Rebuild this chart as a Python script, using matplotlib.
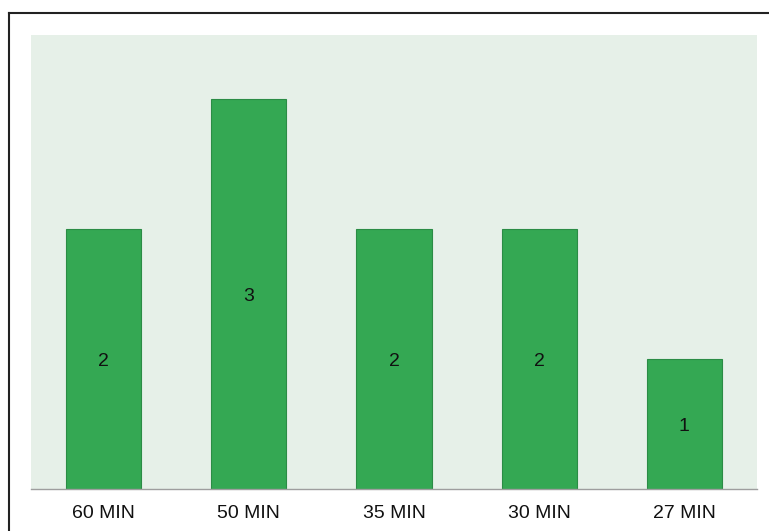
import matplotlib
matplotlib.use("Agg")
import matplotlib.pyplot as plt
from matplotlib.lines import Line2D

plt.rcParams['font.family'] = ['Liberation Sans', 'DejaVu Sans']

labels = ['60 MIN', '50 MIN', '35 MIN', '30 MIN', '27 MIN']
counts = [2, 3, 2, 2, 1]

W, H = 769, 531
fig = plt.figure(figsize=(W/100, H/100), dpi=100)
fig.patch.set_facecolor('white')

# plot area in pixels
x0, x1, ytop, ybot = 31, 757, 35, 489
ax = fig.add_axes([x0/W, (H-ybot)/H, (x1-x0)/W, (ybot-ytop)/H])
ax.set_facecolor('#e6f0e8')

pos = range(len(labels))
bars = ax.bar(pos, counts, width=0.517, color='#34a853',
              edgecolor='#2b8c45', linewidth=0.8, zorder=2)
for b, v in zip(bars, counts):
    # digits centred on the bar middle (baseline ~7px below)
    ax.annotate(str(v), (b.get_x() + b.get_width()/2, v/2), xytext=(0, -7.3),
                textcoords='offset pixels', ha='center', va='baseline',
                fontsize=14, color='#111111', zorder=3)

ax.set_xlim(-0.5, len(labels) - 0.5)
ax.set_ylim(0, 3.49)
ax.set_xticks(list(pos))
ax.set_xticklabels(labels, fontsize=14, color='#111111')
ax.tick_params(axis='x', length=0, pad=11.5)
ax.set_yticks([])
for s in ['top', 'right', 'left']:
    ax.spines[s].set_visible(False)
ax.spines['bottom'].set_color('#9e9e9e')
ax.spines['bottom'].set_linewidth(1)

# outer frame (left and top edges only, rest is cropped)
fig.add_artist(Line2D([8.5/W, 8.5/W], [0, (H-12.5)/H], color='#222222', lw=1.5))
fig.add_artist(Line2D([8.5/W, 1], [(H-12.5)/H, (H-12.5)/H], color='#222222', lw=1.5))

fig.savefig('out.png', dpi=100)
